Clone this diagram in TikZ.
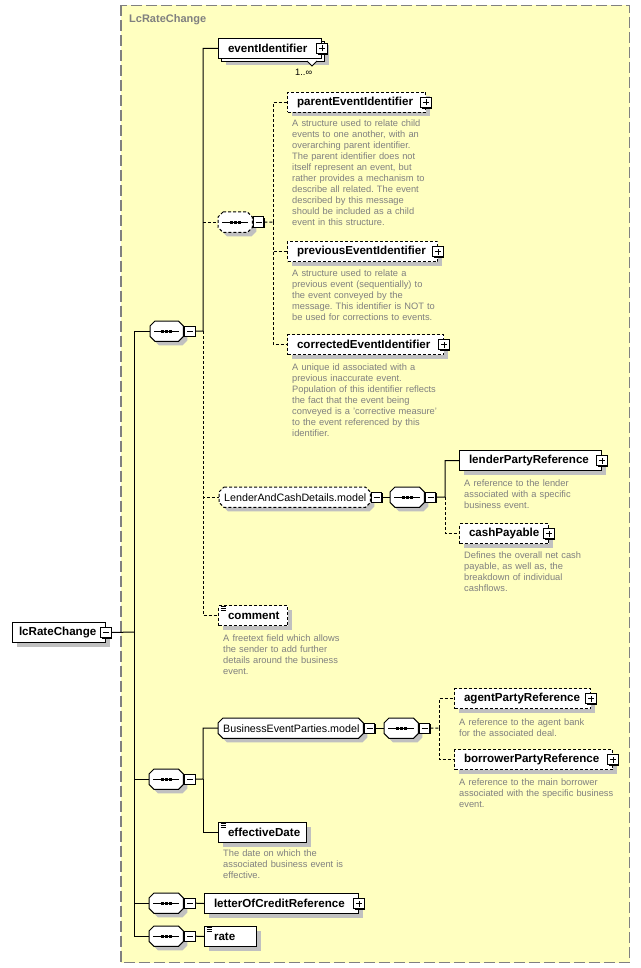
\documentclass[tikz,border=0pt]{standalone}
\usepackage{fontspec}
\setmainfont{Liberation Sans}
\usetikzlibrary{shadows,calc}
\pgfdeclarelayer{bg}\pgfdeclarelayer{shapes}\pgfsetlayers{bg,shapes,main}
\definecolor{bgyellow}{RGB}{255,255,192}
\definecolor{framegray}{RGB}{128,128,128}
\definecolor{shadowgray}{RGB}{192,192,192}
\definecolor{descgray}{RGB}{128,128,128}
\newcommand\lblfont{\fontsize{11.6}{13}\selectfont\bfseries}
\newcommand\modelfont{\fontsize{10.7}{13}\selectfont}
\newcommand\descfont{\fontsize{9.3}{11}\selectfont\frenchspacing}
\newcommand\titlefont{\fontsize{11}{13}\selectfont\bfseries}
\newcommand\lbl[3]{\makebox[#1pt][l]{\hspace*{#2pt}#3}}
\newcommand\octa[2][octo]{\draw[#1] ([xshift=5pt]#2.north west) -- ([xshift=-5pt]#2.north east) -- ([yshift=-5pt]#2.north east) -- ([yshift=5pt]#2.south east) -- ([xshift=-5pt]#2.south east) -- ([xshift=5pt]#2.south west) -- ([yshift=5pt]#2.south west) -- ([yshift=-5pt]#2.north west) -- cycle;}
\tikzset{
  shad/.style={drop shadow={shadow xshift=4pt,shadow yshift=-4pt,fill=shadowgray,opacity=1}},
  elembase/.style={draw=black, fill=white, line width=1pt, inner sep=0pt, minimum height=20pt, anchor=north west, font=\lblfont},
  elem/.style={elembase, shad},
  optelem/.style={elem, dash pattern=on 3pt off 2pt},
  txtelem/.style={path picture={\foreach \yy in {1.2,3,4.8} \draw[solid, line width=0.6pt] ([xshift=2pt,yshift=-\yy pt]path picture bounding box.north west) -- ++(5pt,0pt);}},
  seqn/.style={inner sep=0pt, minimum height=20pt, anchor=north west},
  seqicon/.style={path picture={
    \draw[solid, line width=0.9pt] ([xshift=4pt]path picture bounding box.west) -- ([xshift=-4pt]path picture bounding box.east);
    \foreach \xx in {-5.5,-1.5,2.5} \fill ([xshift=\xx pt, yshift=-1.4pt]path picture bounding box.center) rectangle ++(3pt,2.8pt);}},
  octo/.style={draw=black, fill=white, line width=1pt, shad},
  optocto/.style={octo, dash pattern=on 3pt off 2pt},
  boxbase/.style={draw=black, fill=white, line width=0.9pt, minimum size=10.5pt, inner sep=0pt, drop shadow={shadow xshift=1pt, shadow yshift=-1pt, fill=black, opacity=1}},
  pbox/.style={boxbase, path picture={
    \draw[solid, line width=0.9pt] ([xshift=-3pt]path picture bounding box.center) -- ([xshift=3pt]path picture bounding box.center);
    \draw[solid, line width=0.9pt] ([yshift=-3pt]path picture bounding box.center) -- ([yshift=3pt]path picture bounding box.center);}},
  mbox/.style={boxbase, path picture={
    \draw[solid, line width=0.9pt] ([xshift=-3pt]path picture bounding box.center) -- ([xshift=3pt]path picture bounding box.center);}},
  conn/.style={line width=1pt},
  dconn/.style={line width=1pt, dash pattern=on 3pt off 2pt},
  desc/.style={anchor=base west, inner sep=0pt, text width=250pt, align=left, font=\descfont, text=descgray},
}
\begin{document}
\begin{tikzpicture}[x=1pt,y=-1pt]
\useasboundingbox (0,0) rectangle (640,968);
\begin{pgfonlayer}{bg}
\fill[white] (0,0) rectangle (640,968);
\draw[fill=bgyellow, draw=framegray, line width=1.2pt, dash pattern=on 11pt off 4pt] (121,5.5) rectangle (629.5,962.5);
\end{pgfonlayer}
\node[anchor=base west, inner sep=0pt, font=\titlefont, text=framegray] (title) at (129,23) {LcRateChange};

% elements
\node[elem] (eib) at (221,41) {\lbl{103}{0}{}};
\node[elembase] (ei) at (218,38) {\lbl{103}{9.5}{eventIdentifier}};
\draw[fill=white, line width=0.8pt] (307,61) -- (312,66) -- (317,61);
\node[pbox] (eip) at (ei.east) {};
\node[anchor=base west, inner sep=0pt, font=\descfont] (mult) at (295,76) {1..∞};

\node[optelem] (pei) at (287,92) {\lbl{138}{9.5}{parentEventIdentifier}};
\node[pbox] (peip) at (pei.east) {};
\node[optelem] (prei) at (287,241) {\lbl{150}{9.5}{previousEventIdentifier}};
\node[pbox] (preip) at (prei.east) {};
\node[optelem] (cei) at (287,334) {\lbl{156}{9.5}{correctedEventIdentifier}};
\node[pbox] (ceip) at (cei.east) {};
\node[elem] (lpr) at (459,450) {\lbl{142}{9.5}{lenderPartyReference}};
\node[pbox] (lprp) at (lpr.east) {};
\node[optelem] (cp) at (459,523) {\lbl{89}{9.5}{cashPayable}};
\node[pbox] (cpp) at (cp.east) {};
\node[optelem, txtelem] (com) at (218,605) {\lbl{69}{9.5}{comment}};
\node[optelem] (apr) at (454,688) {\lbl{136}{9.5}{agentPartyReference}};
\node[pbox] (aprp) at (apr.east) {};
\node[optelem] (bpr) at (454,749) {\lbl{158}{9.5}{borrowerPartyReference}};
\node[pbox] (bprp) at (bpr.east) {};
\node[elem, txtelem] (ed) at (218,822) {\lbl{88}{9.5}{effectiveDate}};
\node[elem] (locr) at (204,893) {\lbl{154}{9.5}{letterOfCreditReference}};
\node[pbox] (locrp) at (locr.east) {};
\node[elem, txtelem] (rate) at (204,926) {\lbl{52}{9.5}{rate}};
\node[elem] (root) at (12,622) {\lbl{93}{6.5}{lcRateChange}};
\node[mbox] (rootm) at (root.east) {};

% compositors and groups
\node[seqn, seqicon, minimum width=33pt] (s1) at (150,321) {};
\node[mbox, anchor=west] (s1m) at ([xshift=1pt]s1.east) {};
\node[seqn, seqicon, minimum width=34pt] (ch) at (218,212) {};
\node[mbox, anchor=west] (chm) at ([xshift=0.5pt]ch.east) {};
\node[seqn, font=\modelfont] (lacd) at (219,487) {\lbl{151}{5}{LenderAndCashDetails.model}};
\node[mbox, anchor=west] (lacdm) at ([xshift=0.5pt]lacd.east) {};
\node[seqn, seqicon, minimum width=34pt] (sl) at (390,487) {};
\node[mbox, anchor=west] (slm) at ([xshift=0.5pt]sl.east) {};
\node[seqn, seqicon, minimum width=34pt] (s2) at (149,769) {};
\node[mbox, anchor=west] (s2m) at ([xshift=1pt]s2.east) {};
\node[seqn, font=\modelfont] (bep) at (218,718) {\lbl{145}{5}{BusinessEventParties.model}};
\node[mbox, anchor=west] (bepm) at ([xshift=0.5pt]bep.east) {};
\node[seqn, seqicon, minimum width=34pt] (sb) at (384,718) {};
\node[mbox, anchor=west] (sbm) at ([xshift=0.5pt]sb.east) {};
\node[seqn, seqicon, minimum width=34pt] (s3) at (149,893) {};
\node[mbox, anchor=west] (s3m) at ([xshift=1pt]s3.east) {};
\node[seqn, seqicon, minimum width=34pt] (s4) at (149,926) {};
\node[mbox, anchor=west] (s4m) at ([xshift=1pt]s4.east) {};

\begin{pgfonlayer}{shapes}
\octa{s1} \octa[optocto]{ch} \octa[optocto]{lacd} \octa{sl} \octa{s2} \octa{bep} \octa{sb} \octa{s3} \octa{s4}
\end{pgfonlayer}

% descriptions
\node[desc] (peid) at (292,126.3) {A structure used to relate child\\events to one another, with an\\overarching parent identifier.\\The parent identifier does not\\itself represent an event, but\\rather provides a mechanism to\\describe all related. The event\\described by this message\\should be included as a child\\event in this structure.};
\node[desc] (preid) at (292,276.3) {A structure used to relate a\\previous event (sequentially) to\\the event conveyed by the\\message. This identifier is NOT to\\be used for corrections to events.};
\node[desc] (ceid) at (292,370.3) {A unique id associated with a\\previous inaccurate event.\\Population of this identifier reflects\\the fact that the event being\\conveyed is a 'corrective measure'\\to the event referenced by this\\identifier.};
\node[desc] (lprd) at (464,486.3) {A reference to the lender\\associated with a specific\\business event.};
\node[desc] (cpd) at (464,558.3) {Defines the overall net cash\\payable, as well as, the\\breakdown of individual\\cashflows.};
\node[desc] (comd) at (223,641.3) {A freetext field which allows\\the sender to add further\\details around the business\\event.};
\node[desc] (aprd) at (459,725.3) {A reference to the agent bank\\for the associated deal.};
\node[desc] (bprd) at (459,785.3) {A reference to the main borrower\\associated with the specific business\\event.};
\node[desc] (edd) at (223,856.3) {The date on which the\\associated business event is\\effective.};

% connectors
\coordinate (sp) at (134,632);
\coordinate (b1) at (203,331);
\coordinate (b2) at (273,222);
\coordinate (b3) at (445,497);
\coordinate (b4) at (203,779);
\coordinate (b5) at (439,728);
\draw[conn] (rootm.east) -- (sp);
\draw[conn] (sp) |- (s1.west);
\draw[conn] (sp) |- (s2.west);
\draw[conn] (sp) |- (s3.west);
\draw[conn] (sp) |- (s4.west);
\draw[conn] (s1m.east) -- (b1) |- (ei.west);
\draw[dconn] (b1 |- ch.west) -- (ch.west);
\draw[dconn] (b1) |- (lacd.west);
\draw[dconn] (b1) |- (com.west);
\draw[dconn] (chm.east) -- (b2);
\draw[dconn] (b2) |- (pei.west);
\draw[dconn] (b2) |- (prei.west);
\draw[dconn] (b2) |- (cei.west);
\draw[conn] (lacdm.east) -- (sl.west);
\draw[conn] (slm.east) -- (b3) |- (lpr.west);
\draw[dconn] (b3) |- (cp.west);
\draw[conn] (s2m.east) -- (b4) |- (bep.west);
\draw[conn] (b4) |- (ed.west);
\draw[conn] (bepm.east) -- (sb.west);
\draw[dconn] (sbm.east) -- (b5);
\draw[dconn] (b5) |- (apr.west);
\draw[dconn] (b5) |- (bpr.west);
\draw[conn] (s3m.east) -- (locr.west);
\draw[conn] (s4m.east) -- (rate.west);
\end{tikzpicture}
\end{document}
